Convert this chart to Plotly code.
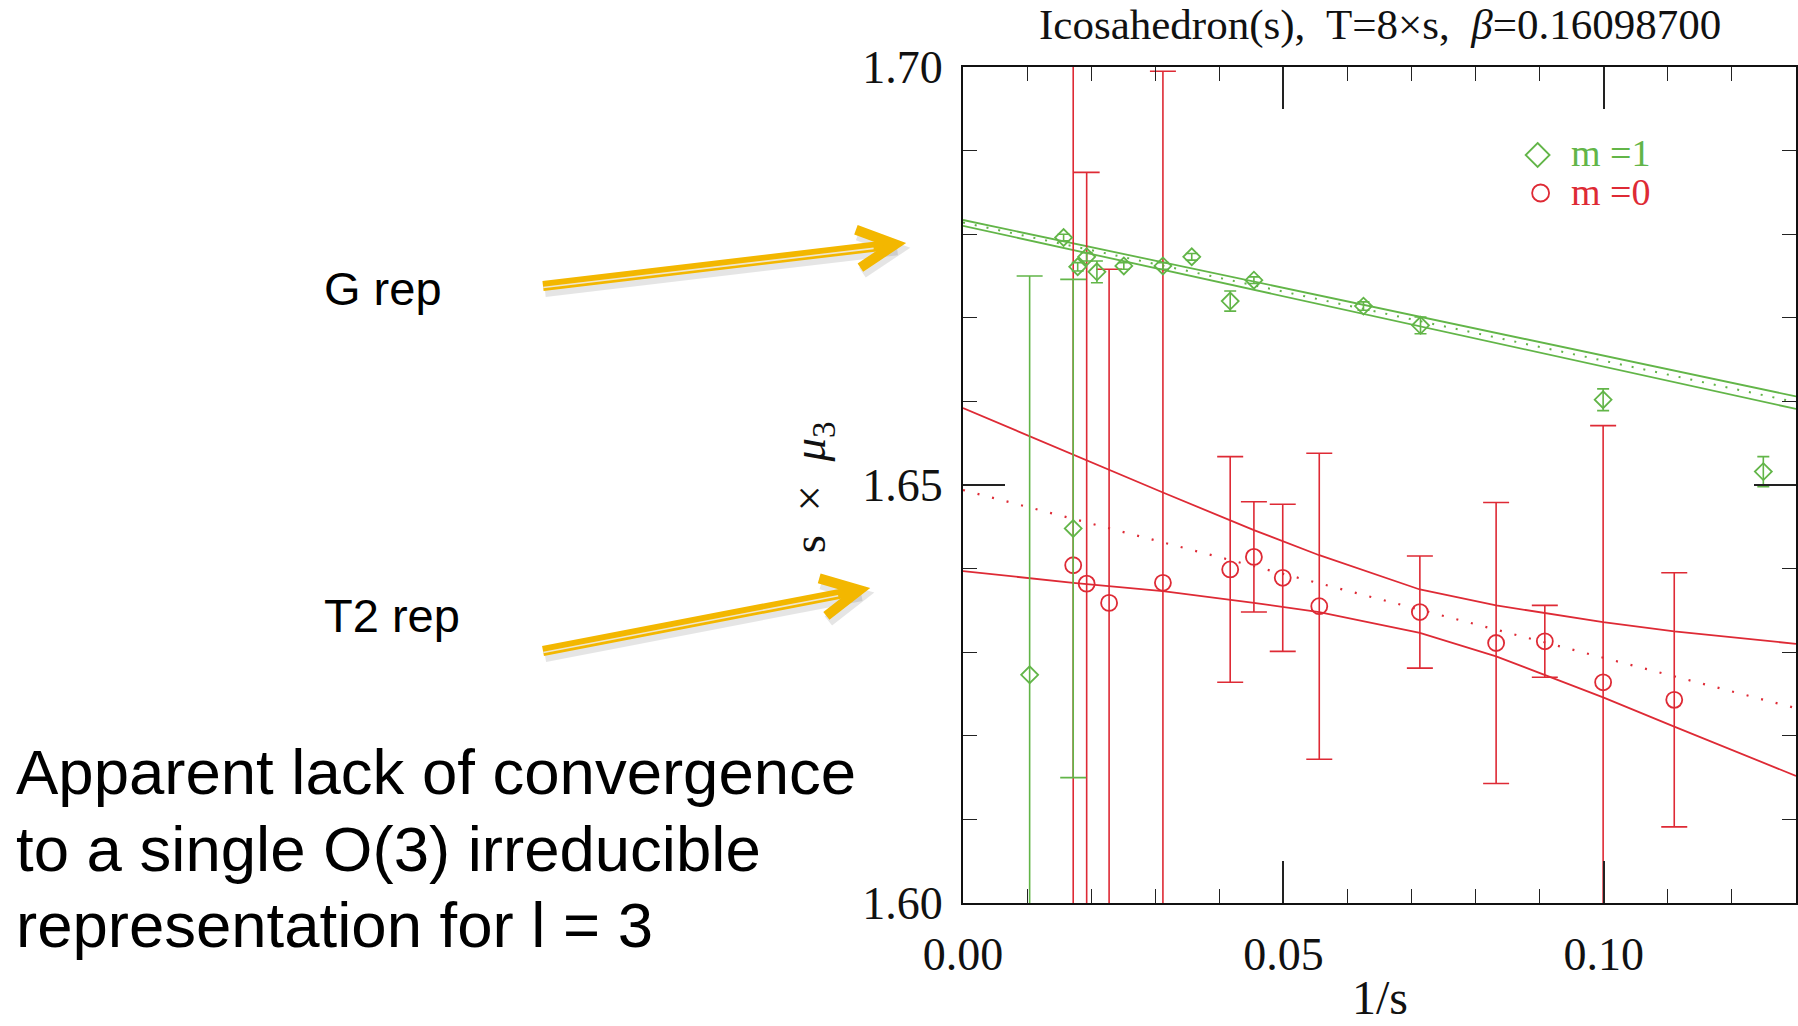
import math
import plotly.graph_objects as go

# ---------------- data ----------------
# m = 1 (green diamonds)
green_x = [0.0104, 0.0157, 0.0172, 0.0179, 0.0193, 0.0209, 0.0251, 0.0312,
           0.0357, 0.0417, 0.0454, 0.0625, 0.0714, 0.0999, 0.1249]
green_y = [1.6273, 1.6796, 1.6448, 1.6761, 1.6773, 1.6755, 1.6762, 1.6762,
           1.6773, 1.6720, 1.6745, 1.6714, 1.6691, 1.6602, 1.6516]
green_err = [0.0477, 0.0004, 0.0298, 0.0005, 0.0005, 0.0013, 0.0004, 0.0004,
             0.0004, 0.0012, 0.0004, 0.0005, 0.0010, 0.0013, 0.0018]

# m = 0 (red circles)
red_x = [0.0172, 0.0193, 0.0228, 0.0312, 0.0417, 0.0454, 0.0499, 0.0556,
         0.0713, 0.0832, 0.0908, 0.0999, 0.1110]
red_y = [1.6404, 1.6382, 1.6359, 1.6383, 1.6399, 1.6414, 1.6389, 1.6355,
         1.6348, 1.6311, 1.6313, 1.6264, 1.6243]
red_err = [0.0700, 0.0492, 0.0399, 0.0612, 0.0135, 0.0066, 0.0088, 0.0183,
           0.0067, 0.0168, 0.0043, 0.0307, 0.0152]

# linear fits (central dotted line + error band)
fit_x = [0.0, 0.13]
green_fit_mid = [1.6814, 1.6599]
green_fit_hi = [1.6817, 1.6606]
green_fit_lo = [1.6810, 1.6591]

red_fit_mid = [1.6494, 1.6233]
red_band_x = [0.0, 0.0172, 0.0312, 0.0454, 0.0556, 0.0713, 0.0832, 0.0999, 0.1110, 0.13]
red_fit_hi = [1.6592, 1.6536, 1.6491, 1.6446, 1.6416, 1.6375, 1.6356, 1.6336, 1.6325, 1.6310]
red_fit_lo = [1.6397, 1.6383, 1.6373, 1.6359, 1.6348, 1.6323, 1.6295, 1.6246, 1.6211, 1.6152]

x_range = [0.0, 0.13]
y_range = [1.60, 1.70]

slide_lines = ["Apparent lack of convergence",
               "to a single O(3) irreducible",
               "representation for l = 3"]

# ---------------- styling ----------------
GREEN = "#62b548"
RED = "#de2a35"
GOLD = "#f3b700"
SERIF = "Liberation Serif"
SANS = "Liberation Sans"

W, H = 1798, 1026
L, R, T, B = 963, 0, 67, 123
PW = W - L - R
PH = H - T - B


def px(X, Y):
    """pixel position on the page -> paper coordinates"""
    return (X - L) / PW, (H - B - Y) / PH


fig = go.Figure()

# red fit band + central dotted line
fig.add_trace(go.Scatter(x=red_band_x, y=red_fit_hi, mode="lines",
                         line=dict(color=RED, width=1.8), hoverinfo="skip"))
fig.add_trace(go.Scatter(x=red_band_x, y=red_fit_lo, mode="lines",
                         line=dict(color=RED, width=1.8), hoverinfo="skip"))
fig.add_trace(go.Scatter(x=fit_x, y=red_fit_mid, mode="lines",
                         line=dict(color=RED, width=2.2, dash="2px,13px"), hoverinfo="skip"))

# green fit band + central dotted line
fig.add_trace(go.Scatter(x=fit_x, y=green_fit_hi, mode="lines",
                         line=dict(color=GREEN, width=1.8), hoverinfo="skip"))
fig.add_trace(go.Scatter(x=fit_x, y=green_fit_lo, mode="lines",
                         line=dict(color=GREEN, width=1.8), hoverinfo="skip"))
fig.add_trace(go.Scatter(x=fit_x, y=green_fit_mid, mode="lines",
                         line=dict(color=GREEN, width=2, dash="2px,10px"), hoverinfo="skip"))

# red points
fig.add_trace(go.Scatter(
    x=red_x, y=red_y, mode="markers", name="m =0",
    marker=dict(symbol="circle-open", size=16, color=RED, line=dict(width=1.8)),
    error_y=dict(type="data", array=red_err, color=RED, thickness=1.6, width=13),
))

# green points (large error bars get wide caps, small ones narrow caps)
big = [i for i, e in enumerate(green_err) if e > 0.01]
small = [i for i, e in enumerate(green_err) if e <= 0.01]
fig.add_trace(go.Scatter(
    x=[green_x[i] for i in big], y=[green_y[i] for i in big], mode="markers",
    marker=dict(symbol="diamond-open", size=13, color=GREEN, line=dict(width=1.8)),
    error_y=dict(type="data", array=[green_err[i] for i in big], color=GREEN,
                 thickness=1.6, width=13),
))
fig.add_trace(go.Scatter(
    x=[green_x[i] for i in small], y=[green_y[i] for i in small], mode="markers",
    name="m =1",
    marker=dict(symbol="diamond-open", size=13, color=GREEN, line=dict(width=1.8)),
    error_y=dict(type="data", array=[green_err[i] for i in small], color=GREEN,
                 thickness=1.6, width=6),
))

axis_common = dict(
    showgrid=False, zeroline=False, showline=True, linecolor="#111", linewidth=2,
    mirror="ticks", ticks="inside", tickcolor="#222", tickwidth=1.5, ticklen=42,
    tickfont=dict(family=SERIF, size=46, color="#111"),
)
fig.update_xaxes(range=x_range, tick0=0, dtick=0.05, tickformat=".2f",
                 ticklabelstandoff=10,
                 minor=dict(tick0=0, dtick=0.01, ticks="inside", ticklen=14,
                            tickwidth=1.3, tickcolor="#222", showgrid=False),
                 **axis_common)
fig.update_yaxes(range=y_range, tick0=1.6, dtick=0.05, tickformat=".2f",
                 ticklabelstandoff=9,
                 minor=dict(tick0=1.6, dtick=0.01, ticks="inside", ticklen=14,
                            tickwidth=1.3, tickcolor="#222", showgrid=False),
                 **axis_common)

ann = []


def add_text(X, Y, text, size, family, color="#111", xanchor="center",
             yanchor="middle", angle=0, align="left"):
    xp, yp = px(X, Y)
    ann.append(dict(x=xp, y=yp, xref="paper", yref="paper", text=text,
                    showarrow=False, xanchor=xanchor, yanchor=yanchor,
                    textangle=angle, align=align,
                    font=dict(family=family, size=size, color=color)))


# title and axis titles
add_text(1380.5, 25, "Icosahedron(s),  T=8×s,  <i>β</i>=0.16098700", 43, SERIF)
add_text(812, 487, "s  ×  <i>μ</i><sub>3</sub>", 47, SERIF, angle=-90)
add_text(1381, 998, "1/s", 48, SERIF)

# legend
add_text(1570, 153, "m =1", 38, SERIF, color=GREEN, xanchor="left")
add_text(1570, 192, "m =0", 38, SERIF, color=RED, xanchor="left")

# slide annotations
add_text(320, 288, "G rep", 47, SANS, color="#000", xanchor="left")
add_text(320, 615, "T2 rep", 47, SANS, color="#000", xanchor="left")
for yy, line in zip([772, 848.5, 924.5], slide_lines):
    add_text(12, yy, line, 63.5, SANS, color="#000", xanchor="left")

shapes = []

# legend symbols
cx, cy = 1539, 155
d = 12
pts = [px(cx, cy - d), px(cx + d, cy), px(cx, cy + d), px(cx - d, cy)]
path = "M " + " L ".join(f"{a},{b}" for a, b in pts) + " Z"
shapes.append(dict(type="path", path=path, xref="paper", yref="paper",
                   line=dict(color=GREEN, width=1.8)))
x0, y0 = px(1533.5, 201.5)
x1, y1 = px(1550.5, 184.5)
shapes.append(dict(type="circle", xref="paper", yref="paper", x0=x0, y0=y0, x1=x1, y1=y1,
                   line=dict(color=RED, width=1.8)))


# gold arrows
def arrow(tail, tip, shadow=True):
    tx, ty = tail
    hx, hy = tip
    ang = math.atan2(hy - ty, hx - tx)
    # the sharp miter of the head sticks out past the join point
    hx -= 11 * math.cos(ang)
    hy -= 11 * math.sin(ang)
    tipj = (hx, hy)
    wl = 42
    wa = math.radians(27)
    w1 = (hx - wl * math.cos(ang - wa), hy - wl * math.sin(ang - wa))
    w2 = (hx - wl * math.cos(ang + wa), hy - wl * math.sin(ang + wa))

    def seg(points, color, width, dx=0.0, dy=0.0):
        pp = [px(a + dx, b + dy) for a, b in points]
        p = "M " + " L ".join(f"{a},{b}" for a, b in pp)
        shapes.append(dict(type="path", path=p, xref="paper", yref="paper",
                           line=dict(color=color, width=width), layer="above"))

    if shadow:
        seg([tail, tipj], "rgba(0,0,0,0.10)", 12, 2, 5)
        seg([w1, tipj, w2], "rgba(0,0,0,0.10)", 12, 2, 5)
    seg([tail, tipj], GOLD, 10)
    # thin light inner line of the double stroke
    nx, ny = -math.sin(ang), math.cos(ang)
    seg([(tx + 1.5 * nx, ty + 1.5 * ny),
         (hx - 22 * math.cos(ang) + 1.5 * nx, hy - 22 * math.sin(ang) + 1.5 * ny)],
        "#efe6cf", 1.6)
    seg([w1, tipj, w2], GOLD, 10)


arrow((542, 286), (906, 243))
arrow((542, 651), (870, 588))

fig.update_layout(
    width=W, height=H,
    margin=dict(l=L, r=R, t=T, b=B, pad=0),
    paper_bgcolor="white", plot_bgcolor="white",
    showlegend=False,
    annotations=ann,
    shapes=shapes,
)

fig.write_html("out.html")
